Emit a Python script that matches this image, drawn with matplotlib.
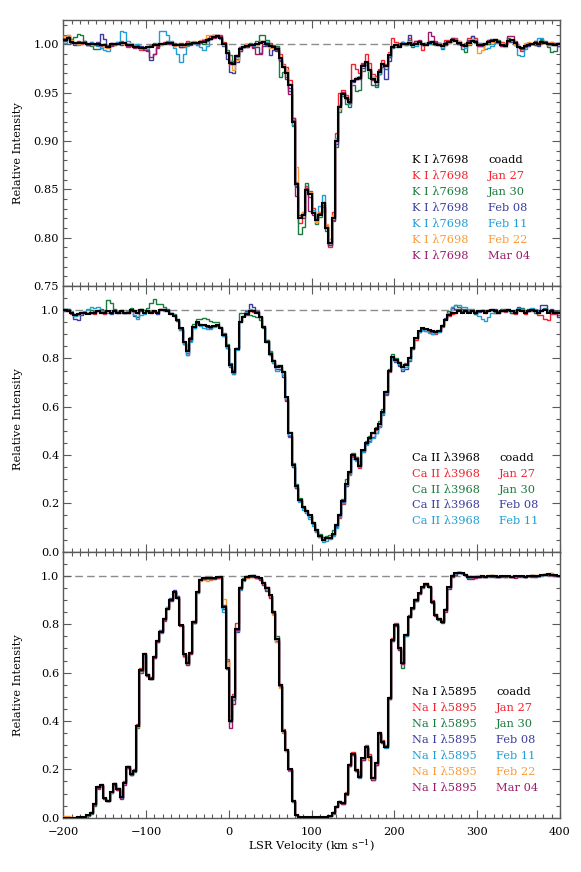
import numpy as np
import matplotlib
matplotlib.use("Agg")
import matplotlib.pyplot as plt
from matplotlib.ticker import MultipleLocator, FormatStrFormatter

plt.rcParams['font.family'] = ['DejaVu Serif']
plt.rcParams['mathtext.fontset'] = 'dejavuserif'

# ---------------- data ----------------
# velocity bin edges (km/s): 4 km/s bins from -200 to 400
velocity_edges = np.arange(-200, 401, 4)

dates = ["coadd", "Jan 27", "Jan 30", "Feb 08", "Feb 11", "Feb 22", "Mar 04"]
date_colors = ["#000000", "#f5222d", "#1b7a3e", "#3b3c9e", "#1f9ed6", "#fb9b34", "#9c1a6a"]

# ---- K I 7698 coadd ----
k_coadd = [
    1.004, 1.006, 1.002, 1.001, 1.001, 1.001, 1.001, 1.000, 1.000, 1.000,
    1.000, 0.999, 0.999, 0.997, 1.000, 1.000, 1.000, 1.001, 1.001, 0.999,
    0.999, 0.997, 0.997, 0.996, 0.996, 0.997, 0.997, 0.999, 0.999, 1.000,
    1.000, 1.001, 1.001, 0.999, 0.999, 0.999, 0.999, 1.000, 1.000, 1.001,
    1.001, 1.002, 1.002, 1.004, 1.005, 1.007, 1.008, 1.006, 1.000, 0.991,
    0.981, 0.979, 0.988, 0.995, 0.997, 0.998, 0.999, 0.999, 1.000, 1.001,
    1.002, 1.000, 0.998, 0.997, 0.995, 0.986, 0.976, 0.970, 0.958, 0.920,
    0.855, 0.820, 0.823, 0.849, 0.845, 0.825, 0.818, 0.823, 0.836, 0.810,
    0.794, 0.820, 0.900, 0.935, 0.949, 0.944, 0.940, 0.962, 0.964, 0.965,
    0.977, 0.982, 0.973, 0.964, 0.961, 0.971, 0.980, 0.977, 0.989, 0.997,
    0.999, 0.997, 1.000, 1.000, 1.001, 0.999, 1.000, 1.002, 1.000, 0.999,
    1.001, 1.002, 1.000, 0.999, 0.998, 1.000, 1.002, 1.004, 1.003, 1.001,
    0.999, 0.998, 1.001, 1.003, 1.002, 0.999, 0.999, 1.000, 1.002, 1.003,
    1.004, 1.002, 0.999, 0.998, 1.003, 1.004, 1.001, 0.997, 0.996, 0.998,
    0.999, 1.000, 1.001, 1.000, 1.002, 1.001, 1.000, 1.000, 0.999, 1.000,
]
# per-epoch departures from the coadd, units of 0.001
k_dev_jan27 = [
    2, 3, 1, 0, 1, -1, 0, 1, 2, 0,
    1, -1, 0, 2, 1, -1, 0, 2, 1, -2,
    0, 1, -1, -2, 0, 1, 2, 0, -1, 1,
    2, 0, -1, 1, 0, -2, 1, 3, 2, 0,
    1, -1, 0, 2, 3, 2, 1, 3, 2, 1,
    2, 3, 1, -2, 0, 2, 1, 0, -1, 2,
    1, 2, 3, 1, 2, 4, 3, 6, 5, 4,
    3, -5, 2, 4, -3, 6, 2, 4, -2, 3,
    -4, 6, 8, 15, 4, 3, 3, 17, 10, 5,
    4, 8, 8, 5, 6, 3, 4, 2, 3, 9,
    3, 4, 2, 1, 5, 2, 3, 1, -6, 2,
    1, -2, 3, 2, 1, 4, 2, -1, 3, 2,
    1, 3, 5, 5, 4, 2, -1, 0, 2, 1,
    -2, 1, 3, 2, -1, 0, 2, 1, -3, 0,
    2, 1, -2, 0, 3, 1, -1, 2, 0, 1,
]
k_dev_jan30 = [
    1, 2, 3, 6, 10, 8, 2, 0, -2, -5,
    -5, -3, 1, 2, 0, -1, 2, 1, 0, 1,
    -1, 0, 2, 1, -1, 0, 1, 2, 0, -1,
    1, 2, 0, -1, 1, 0, -2, 1, 2, 1,
    0, 1, -2, 1, 0, 2, -1, 0, 1, 3,
    8, 4, -3, 2, 1, 0, 2, 1, 3, 8,
    8, 4, 1, 2, 3, -20, -5, -4, -6, -5,
    -3, -16, -12, 7, 3, 2, -4, -2, 1, -3,
    -2, -3, -6, -5, -3, -6, -5, -4, -12, -12,
    -5, -4, -8, -6, -5, -2, -4, -3, -2, -1,
    -2, 2, 0, -1, 3, -2, 1, 0, -1, 2,
    0, -2, 1, 2, -3, -1, 0, 2, 1, -1,
    -4, -6, -2, 1, 0, -1, 2, 0, -2, 1,
    0, 2, -1, 1, 3, 0, -2, 1, 0, -1,
    1, 0, -2, -1, 2, 0, -3, -8, -6, -2,
]
k_dev_feb08 = [
    -1, 0, 1, -2, 0, 1, 2, -1, 0, -1,
    2, 12, 6, 1, -1, 0, 1, -2, 0, 1,
    -1, 0, 1, 2, -1, -3, -13, -9, -2, 0,
    1, -1, 0, 2, 1, -2, 0, 1, -1, 0,
    -2, 0, 1, -1, 0, 1, 2, 0, -2, -6,
    -10, -9, -6, -2, 0, -1, 1, -2, -3, -10,
    -4, -2, -9, -3, -1, -2, 0, 1, -3, 2,
    -2, 1, 3, -1, 2, 0, 3, 1, -2, 0,
    -2, 1, -3, 2, 0, -1, 1, -1, 0, 1,
    -2, -1, 0, 2, -3, -2, -1, -13, -6, 1,
    0, 1, 2, 1, 8, 2, 0, 1, -1, 0,
    2, 1, -1, 0, 1, 2, -1, 0, 1, -1,
    0, 1, 3, 5, 2, 0, -1, 1, 0, 2,
    1, -1, 0, 2, 1, -2, 0, 1, -1, 0,
    -1, 0, 1, -2, 0, 2, 1, -1, 0, -2,
]
k_dev_feb11 = [
    -3, -1, 2, 0, -2, 1, 0, -1, 2, 0,
    -2, -3, -5, -4, 1, 0, 2, 13, 12, 4,
    1, 2, 3, 0, -1, -2, 1, 0, 2, 14,
    14, 8, 2, -3, -9, -17, -9, -2, 0, 1,
    -2, -5, -8, -6, 1, 0, 2, -1, 0, 1,
    2, 0, -1, 1, 0, 2, 1, -1, 0, 2,
    1, 2, 0, -1, 1, 0, 2, 3, 1, -4,
    2, 3, 1, -2, 1, 4, 2, 10, 8, 3,
    2, 1, 3, 2, 0, 1, -2, 1, 0, 2,
    1, -1, 0, 2, 1, -2, 0, 1, -1, 0,
    1, 0, 2, -1, 1, 0, -2, 1, 0, 2,
    -1, 1, 0, 2, -2, 1, 0, -1, 2, 1,
    0, -2, 1, 0, -1, 2, 0, -5, -6, -5,
    -3, -1, 0, 2, 1, 0, -2, -8, -8, -3,
    1, 0, 2, 6, 4, 1, -1, 0, 2, 1,
]
k_dev_feb22 = [
    4, 4, 2, 1, -1, 0, 1, 0, -1, 0,
    1, 0, -2, -1, 1, 0, 0, 1, -1, 0,
    2, 1, 0, -1, -2, 0, 1, 0, 1, -1,
    0, 1, 0, -1, 0, 1, -1, 0, 1, 2,
    1, 2, 3, 5, 4, 2, 1, 0, -1, 0,
    -2, -6, -4, 0, 1, 2, 0, 1, -1, 0,
    1, 0, -2, -1, 0, 1, 2, 3, 1, 4,
    18, 2, 3, -1, 2, 1, -2, 3, 1, 4,
    5, 3, 2, -2, 1, 0, -1, 1, 2, 0,
    1, 0, -1, 2, 0, 1, -1, 0, 2, 1,
    0, 1, -1, 0, 2, 1, 0, -1, 1, 0,
    1, -1, 0, 1, 2, 0, -1, 1, 0, 2,
    0, 1, -1, 2, 1, -8, -5, 0, 1, -1,
    1, 0, 2, -1, 0, 1, -2, 0, 1, 3,
    3, 1, 0, 2, -1, 0, 1, 2, 0, 1,
]
k_dev_mar04 = [
    0, 1, -1, 0, 2, 1, 0, -1, 1, 0,
    -1, 0, 1, 0, -2, 1, 0, 1, 0, -1,
    0, -1, 1, 0, -2, -4, -10, -9, -3, 0,
    1, 0, -1, 0, 1, 2, 0, -1, 0, 1,
    0, 1, 2, 1, 0, -1, 0, 2, 1, 0,
    -1, 0, 1, 2, 0, -1, 0, -3, -10, -11,
    -2, -1, 0, 1, -2, -3, 0, -6, -9, 4,
    -12, 3, -3, 2, -17, -2, 0, 2, -4, 1,
    0, -2, 0, 1, 2, 0, -1, 1, 0, -1,
    2, 0, 1, -1, 0, 2, 1, 0, -2, 1,
    0, 2, 1, 0, -1, 1, 3, 2, 0, 1,
    12, 6, 2, 0, 1, -1, 0, 2, 1, 0,
    -1, 0, 2, 1, 0, -1, 1, 0, 2, 1,
    0, 1, -1, 2, 5, 4, 1, 0, -1, 0,
    1, 0, 2, 1, -1, 0, 1, 0, 2, 1,
]

# ---- Ca II 3968 coadd ----
ca_coadd = [
    1.000, 0.995, 0.990, 0.980, 0.985, 0.990, 0.990, 0.985, 0.990, 0.990,
    0.995, 0.990, 0.990, 0.995, 0.990, 0.995, 0.990, 0.995, 0.990, 0.990,
    1.000, 0.995, 0.990, 1.000, 0.990, 0.995, 0.990, 0.995, 0.990, 1.000,
    1.000, 0.995, 0.985, 0.975, 0.960, 0.925, 0.870, 0.830, 0.880, 0.930,
    0.950, 0.940, 0.938, 0.935, 0.930, 0.935, 0.940, 0.925, 0.897, 0.850,
    0.775, 0.745, 0.840, 0.950, 0.972, 0.986, 0.996, 0.996, 0.990, 0.970,
    0.930, 0.870, 0.820, 0.790, 0.765, 0.770, 0.745, 0.640, 0.490, 0.360,
    0.270, 0.215, 0.185, 0.170, 0.150, 0.120, 0.090, 0.065, 0.050, 0.055,
    0.058, 0.075, 0.110, 0.150, 0.210, 0.280, 0.330, 0.400, 0.385, 0.355,
    0.420, 0.450, 0.470, 0.490, 0.510, 0.530, 0.580, 0.660, 0.750, 0.805,
    0.795, 0.780, 0.765, 0.775, 0.800, 0.845, 0.885, 0.915, 0.926, 0.924,
    0.918, 0.913, 0.910, 0.914, 0.935, 0.960, 0.980, 0.988, 0.990, 0.995,
    0.990, 0.995, 0.990, 0.995, 0.990, 0.995, 0.995, 0.990, 0.995, 1.000,
    0.995, 0.990, 0.995, 0.995, 1.000, 0.995, 0.990, 1.000, 0.995, 0.990,
    0.995, 1.000, 0.995, 0.990, 0.995, 1.000, 0.990, 0.995, 0.990, 0.990,
]
ca_dev_jan27 = [
    5, 0, -5, 3, 0, -3, 2, 5, 0, -4,
    3, 0, -5, 2, 0, 4, -2, 5, 0, -3,
    2, -3, 0, 5, -2, 3, 0, -4, 2, 6,
    0, 3, 5, 0, -5, -8, -10, -6, -3, 0,
    -3, 2, 0, -5, 3, 0, -2, 4, 0, -5,
    -8, -5, 5, 0, 5, 3, 0, -3, 5, 3,
    5, 8, 10, 5, 0, -5, 0, -10, -15, -10,
    -8, -5, 0, -3, 0, -5, -8, -3, 0, 2,
    3, -5, -8, -10, -12, -8, -10, -5, 5, -8,
    -8, -5, -3, 0, -5, -8, -15, -10, -5, -5,
    0, -5, 3, 5, 0, -5, -10, -5, -8, -10,
    -10, -12, -8, -5, -3, 0, -5, -3, 0, 5,
    3, 0, 5, 0, -5, 3, 0, -3, 5, 0,
    -5, 0, 3, -3, 0, -8, -5, 0, 3, -5,
    0, -5, 3, -8, -15, -35, -30, -10, -5, -12,
]
ca_dev_jan30 = [
    5, 8, 0, -3, 5, 3, 0, 5, 10, 8,
    5, 15, 3, 45, 40, 10, 5, 3, 0, 5,
    8, 3, 0, 5, 10, 15, 40, 50, 35, 25,
    15, 5, 0, 8, 5, 3, 0, 5, 10, 12,
    15, 25, 30, 30, 25, 15, 10, 5, 8, 10,
    5, 8, 5, 40, 15, -5, -15, -20, -20, -10,
    -5, 5, 8, 5, 10, 3, 5, 0, 5, 8,
    10, 8, 5, 3, 0, 5, 3, 8, 10, 12,
    10, 15, 5, 8, 10, 20, 5, 10, 8, 5,
    3, 8, 10, 5, 8, 12, 10, 5, 8, 12,
    8, 5, 3, 0, 5, 3, -2, 0, -5, -3,
    -5, 0, 3, 5, 3, 5, 15, 25, 30, 20,
    15, 10, 5, 3, -5, 0, 5, 10, 5, 0,
    -3, 5, 8, 3, 0, -5, 0, 10, 12, 5,
    0, 3, -5, 0, 5, 8, 3, -3, 5, 8,
]
ca_dev_feb08 = [
    -5, 10, 0, -15, -25, -10, 0, 5, -3, 0,
    3, 8, 5, 0, -5, 3, 0, 5, -3, 0,
    -5, -20, -18, -5, 0, 3, 5, 0, -5, 3,
    5, 8, 3, 0, -5, -5, -10, -15, -8, -3,
    -5, -3, 0, -5, -3, 0, -5, 0, -3, -5,
    -10, -8, 0, 5, 5, 10, 30, 15, 5, 0,
    0, -3, -5, -8, -10, -15, -20, -15, -10, -8,
    -5, -3, -5, -10, -8, -5, -3, -5, -3, 0,
    -3, 0, -5, -3, -5, -8, -5, -10, -5, 3,
    -5, -3, -10, -15, -18, -12, -5, -8, -3, -5,
    -10, -12, -15, -20, -12, -5, 0, -5, -8, -3,
    0, -3, 5, 0, 3, 8, 10, 20, 15, 10,
    5, 3, 8, 5, 0, -3, 5, 8, 0, 5,
    10, 5, 3, 8, 5, 0, 10, 15, 5, 3,
    8, 5, 0, 10, 25, 20, 5, 10, 5, -20,
]
ca_dev_feb11 = [
    3, 0, 5, -5, -3, 0, 5, 20, 25, 20,
    18, 5, 0, -5, -3, 0, 3, -5, 0, 5,
    3, -15, -25, -18, -5, 0, 3, 5, -3, 0,
    -3, 0, 5, 3, 0, -8, -12, -15, -10, -5,
    -8, -5, -10, -12, -8, -5, -3, 0, -3, -5,
    -8, -10, -5, 0, 3, 5, 8, 3, 0, 5,
    3, 0, -5, -10, -15, -18, -12, -8, -5, -5,
    -3, -8, -12, -10, -15, -12, -8, -5, -8, -10,
    -5, -8, -10, -5, -8, -5, -12, -15, -10, -5,
    -8, -10, -15, -18, -20, -15, -10, -5, -3, -5,
    -5, -3, -8, -10, -5, -3, 0, -5, -8, -10,
    -12, -10, -5, -3, 0, 5, 10, 25, 30, 28,
    25, 20, 15, 8, 5, -20, -30, -35, -25, -10,
    -5, 0, 5, 3, -3, 0, 5, 8, 10, 5,
    3, 8, 10, 5, 0, 3, 5, -5, 0, 3,
]

# ---- Na I 5895 coadd ----
na_coadd = [
    0.000, 0.000, 0.000, 0.000, 0.001, 0.002, 0.004, 0.010, 0.020, 0.055,
    0.125, 0.135, 0.080, 0.070, 0.105, 0.140, 0.120, 0.085, 0.145, 0.210,
    0.180, 0.195, 0.380, 0.610, 0.675, 0.590, 0.575, 0.665, 0.730, 0.770,
    0.820, 0.865, 0.900, 0.935, 0.910, 0.795, 0.675, 0.640, 0.680, 0.810,
    0.935, 0.985, 0.990, 0.990, 0.990, 0.993, 0.995, 0.995, 0.870, 0.620,
    0.400, 0.500, 0.780, 0.950, 0.985, 0.995, 1.000, 1.000, 0.995, 0.990,
    0.970, 0.950, 0.920, 0.850, 0.740, 0.550, 0.360, 0.280, 0.200, 0.070,
    0.010, 0.002, 0.002, 0.002, 0.002, 0.002, 0.002, 0.002, 0.002, 0.002,
    0.005, 0.020, 0.045, 0.066, 0.060, 0.100, 0.218, 0.262, 0.197, 0.170,
    0.245, 0.294, 0.252, 0.163, 0.225, 0.349, 0.315, 0.294, 0.494, 0.735,
    0.797, 0.700, 0.638, 0.756, 0.832, 0.866, 0.901, 0.928, 0.952, 0.966,
    0.956, 0.894, 0.839, 0.822, 0.811, 0.860, 0.952, 1.000, 1.010, 1.013,
    1.010, 1.003, 0.996, 0.997, 0.996, 0.997, 0.998, 0.997, 0.999, 1.000,
    0.998, 0.997, 0.998, 0.999, 0.998, 0.997, 0.998, 0.999, 0.998, 0.997,
    0.998, 1.000, 0.999, 1.000, 1.002, 1.004, 1.006, 1.005, 1.002, 1.000,
]
na_dev_jan27 = [
    0, 0, 0, 0, 0, 0, 0, 2, 3, 5,
    5, 3, 2, 0, 3, 5, 3, 2, 5, 5,
    3, 5, 8, 8, 8, 5, 3, 5, 5, 3,
    5, 3, 5, 3, 5, 3, 0, 3, 5, 5,
    3, 2, 0, 0, 2, 0, 2, 3, 0, 35,
    10, 12, 25, 5, 3, 3, 0, -2, -3, -3,
    -3, 3, 3, 5, 5, 3, 8, 5, 3, 5,
    3, 0, 0, 0, 0, 0, 0, 0, 0, 0,
    2, 3, 5, 5, 3, 5, 5, 8, 5, 5,
    3, 5, 10, 3, 5, 5, 5, 5, 3, 8,
    8, 5, 3, 5, 3, 3, 5, 3, 5, 3,
    3, 5, 3, 2, 3, 5, 3, 0, 2, 3,
    0, 2, -3, -5, -3, 0, -2, 0, 2, 0,
    0, -2, 0, 2, 0, 0, -2, 0, 2, 0,
    0, 2, 0, -2, 0, 2, 3, 5, 2, 0,
]
na_dev_jan30 = [
    0, 0, 0, 0, 0, 0, 0, -2, -3, -5,
    -5, -3, 0, -3, -2, -3, -5, -3, -2, -5,
    -3, -5, -8, -10, -5, -3, 0, -3, -5, -3,
    -5, -3, 0, -3, -2, 0, -3, -5, 0, -5,
    -5, -3, 0, -2, 0, 0, 0, -3, -5, 30,
    20, -10, -5, 5, 5, 3, 2, 3, 0, 2,
    3, -3, -5, 3, 10, -5, -3, -5, -3, -5,
    0, 0, 0, 0, 0, 0, 0, 0, 0, 0,
    0, -3, 0, 3, -3, -5, -3, 0, -3, -3,
    -5, -3, 0, -8, -5, -3, -5, -3, -5, -3,
    0, -3, -20, -5, -3, 0, -3, 0, -3, 0,
    -3, -3, 0, -3, 2, 3, 0, 3, 0, 3,
    2, 0, 3, 0, 3, 2, 0, 2, 0, 3,
    0, 2, 0, -2, 0, 3, 0, 2, 0, -2,
    0, 2, 0, 0, 2, 0, -2, 3, 2, 0,
]
na_dev_feb08 = [
    0, 0, 0, 0, 0, 0, 0, 0, 2, 3,
    3, 2, 0, 2, 0, 3, 2, 0, 3, 2,
    2, 0, 3, 2, 0, 3, 5, 3, 2, 5,
    3, 5, 8, 8, 5, 3, 2, 0, 3, 2,
    0, 3, 5, 3, 2, 0, 2, 0, -5, 0,
    5, -15, -10, 3, 2, 0, 0, 2, 0, -3,
    0, 2, -3, -5, -8, -5, -3, -2, 0, -2,
    0, 0, 0, 0, 0, 0, 0, 0, 0, 0,
    0, 2, 3, 0, 2, 0, 3, 2, 0, 3,
    2, 0, 3, 5, 2, 0, 2, 3, 5, 3,
    2, 0, 3, 0, 5, 3, 2, 0, 2, 0,
    0, 2, 0, -2, 0, 2, 0, 2, 3, 5,
    3, 2, 0, 3, 2, 0, -2, 0, 2, 0,
    -2, 0, 2, 0, -2, 0, 2, 0, -3, 0,
    2, 0, 0, -2, 0, 2, 0, 2, 0, -2,
]
na_dev_feb11 = [
    0, 0, 0, 0, 0, 0, 0, 0, 0, 2,
    0, -2, -3, 0, -2, 0, -3, -2, 0, -3,
    -2, -3, 0, -2, -5, -3, 0, -2, -3, -5,
    5, 8, 3, 0, -3, 0, -5, -3, 0, -3,
    -5, -3, 0, -2, 0, 0, -2, -3, -20, -5,
    -3, -10, -8, -8, -5, -3, -2, 0, -3, -5,
    -5, -8, -5, -8, -15, -10, -8, -5, -5, -3,
    0, 0, 0, 0, 0, 0, 0, 0, 0, 0,
    0, 0, 2, -2, 0, -3, -5, -3, -2, -5,
    -3, -5, 5, -3, -5, -3, -2, -5, -3, -2,
    -3, -5, -3, -5, -2, -3, -5, -3, 0, -2,
    -3, -5, -3, -2, 0, -5, -3, 0, -2, 0,
    -2, 0, -3, 0, -2, -3, 0, -2, -3, 0,
    -2, -3, 0, -2, 0, -3, -2, 0, 0, -2,
    0, -2, -3, 0, -2, 0, 2, 0, -2, 0,
]
na_dev_feb22 = [
    5, 5, 3, 2, 0, 0, 0, 0, 2, 0,
    3, 0, 2, 3, 0, 2, 0, 3, 2, 0,
    0, 2, -5, -3, 0, 2, 0, -2, 0, 2,
    0, 2, 0, -3, -2, 0, -10, -8, -5, 3,
    0, -5, -8, -10, -8, -5, -3, -5, 35, 25,
    0, 0, 5, 2, 0, -3, -3, -5, -3, 0,
    -2, -5, -3, -10, -15, -15, -5, -3, 0, 0,
    0, 0, 0, 0, 0, 0, 0, 0, 0, 0,
    2, 0, 3, -2, 0, 3, 0, -2, 3, 0,
    2, 3, -15, -5, 0, 3, 0, 2, -3, 2,
    0, 3, 0, 2, 0, 3, 5, 2, 0, 3,
    2, 0, 3, 5, 2, 0, 3, -5, 2, 3,
    0, 3, 2, 0, 3, 5, 2, 0, 3, 2,
    0, 2, 3, 0, -2, 0, 3, 2, 0, 3,
    2, 0, 3, 2, 0, 3, 2, 5, 3, 0,
]
na_dev_mar04 = [
    0, 0, 0, 0, 0, 0, 0, 0, 0, -2,
    -3, 0, -2, -3, 0, -3, -5, -8, -10, -3,
    -5, -3, 0, -2, 0, -3, 0, -3, -2, 0,
    -3, 0, -2, -3, 0, -3, -5, -8, -5, -3,
    0, -3, -2, 0, -3, -5, -3, 0, 8, -5,
    -30, -30, -5, -3, 0, 0, -3, -5, -3, -5,
    -8, -12, -10, -5, -3, -5, -3, 0, -3, -2,
    0, 0, 0, 0, 0, 0, 0, 0, 0, 0,
    0, 0, -2, 0, -3, -2, -5, -3, -2, -3,
    -5, -3, -2, -8, -5, -3, -5, -3, -2, -3,
    -3, -5, -3, 0, -3, -5, -3, -2, 0, -3,
    -3, -5, -3, 0, -5, -8, -5, -3, -5, 0,
    3, 0, -8, -10, -5, -3, 0, -2, 0, -3,
    -2, 0, -3, -2, 0, -3, -5, -3, 0, -2,
    0, -3, -2, 0, 2, 0, -2, 0, -3, 0,
]

k_devs = [k_dev_jan27, k_dev_jan30, k_dev_feb08, k_dev_feb11, k_dev_feb22, k_dev_mar04]
ca_devs = [ca_dev_jan27, ca_dev_jan30, ca_dev_feb08, ca_dev_feb11]
na_devs = [na_dev_jan27, na_dev_jan30, na_dev_feb08, na_dev_feb11, na_dev_feb22, na_dev_mar04]

for arr in [k_coadd, ca_coadd, na_coadd] + k_devs + ca_devs + na_devs:
    assert len(arr) == len(velocity_edges) - 1, len(arr)

panels = [
    ("K I \u03bb7698", k_coadd, k_devs, (0.75, 1.025), 0.05, 0.01, "%.2f"),
    ("Ca II \u03bb3968", ca_coadd, ca_devs, (0.0, 1.1), 0.2, 0.05, "%.1f"),
    ("Na I \u03bb5895", na_coadd, na_devs, (0.0, 1.1), 0.2, 0.05, "%.1f"),
]

# ---------------- figure ----------------
W, H = 581, 872
fig = plt.figure(figsize=(W / 100, H / 100), dpi=100)

left_px, right_px = 63.3, 560.0
panel_px = [(20.0, 286.0), (286.0, 551.7), (551.7, 817.7)]
legend_rows_y = [[160, 176, 192, 208, 224, 240, 256],
                 [458, 474, 489.5, 505, 521],
                 [692, 708, 724, 740, 756, 772, 788]]
legend_col2_x = [488, 499, 496]
spine_color = "#5a5a5a"

for p, ((top, bot), (label, coadd, devs, ylim, major, minor, fmt)) in enumerate(zip(panel_px, panels)):
    ax = fig.add_axes([left_px / W, 1 - bot / H, (right_px - left_px) / W, (bot - top) / H])
    ax.axhline(1.0, color="#8c8c8c", lw=1.0, ls=(0, (5.5, 3)), zorder=1)
    coadd_arr = np.array(coadd)
    for j, dev in enumerate(devs):
        ax.stairs(coadd_arr + np.array(dev) / 1000.0, velocity_edges, baseline=None,
                  color=date_colors[j + 1], lw=1.0, zorder=2 + j)
    ax.stairs(coadd_arr, velocity_edges, baseline=None, color="black", lw=1.5, zorder=10)

    ax.set_xlim(-200, 400)
    ax.set_ylim(*ylim)
    ax.xaxis.set_major_locator(MultipleLocator(100))
    ax.xaxis.set_minor_locator(MultipleLocator(10))
    ax.yaxis.set_major_locator(MultipleLocator(major))
    ax.yaxis.set_minor_locator(MultipleLocator(minor))
    ax.yaxis.set_major_formatter(FormatStrFormatter(fmt))
    ax.tick_params(which="both", direction="in", top=True, right=True,
                   color=spine_color, width=0.8, labelsize=8.2)
    ax.tick_params(which="major", length=6)
    ax.tick_params(which="minor", length=3)
    ax.tick_params(axis="y", pad=3)
    ax.tick_params(axis="x", pad=7)
    if p < 2:
        ax.tick_params(labelbottom=False)
    for s in ax.spines.values():
        s.set_color(spine_color)
        s.set_linewidth(1.0)

    fig.text(18 / W, 1 - (top + bot) / 2 / H, "Relative Intensity", rotation=90,
             ha="center", va="center", fontsize=8.2)

    for r, yy in enumerate(legend_rows_y[p]):
        fig.text(411.7 / W, 1 - yy / H, label, color=date_colors[r],
                 ha="left", va="center", fontsize=8.2)
        fig.text(legend_col2_x[p] / W, 1 - yy / H, dates[r], color=date_colors[r],
                 ha="left", va="center", fontsize=8.2)

fig.text(311 / W, 1 - 846 / H, "LSR Velocity (km s$^{-1}$)", ha="center", va="center", fontsize=8.2)

fig.savefig("out.png", dpi=100)
